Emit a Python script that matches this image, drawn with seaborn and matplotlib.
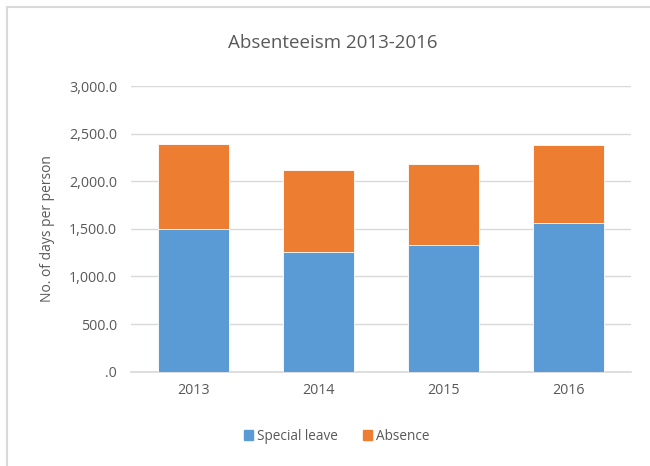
import matplotlib
matplotlib.use("Agg")
import numpy as np
import pandas as pd
import seaborn as sns
import matplotlib.pyplot as plt
from matplotlib.lines import Line2D
from matplotlib.patches import Patch
from matplotlib.ticker import FuncFormatter

years = ["2013", "2014", "2015", "2016"]
special_leave = [1495, 1260, 1330, 1562]
absence = [891, 856, 856, 814]

BLUE = "#5B9BD5"
ORANGE = "#ED7D31"
TEXT = "#595959"
GRID = "#D9D9D9"

sns.set_theme(style="white")
plt.rcParams["font.family"] = ["Open Sans", "DejaVu Sans"]

totals = np.array(special_leave) + np.array(absence)
df = pd.DataFrame({"year": years, "special": special_leave, "total": totals})

fig = plt.figure(figsize=(6.5, 4.66), dpi=100)
ax = fig.add_axes([131 / 650, 1 - 371.7 / 466, 500 / 650, (371.7 - 86) / 466])

# stacked: draw the totals first (orange) and the lower series on top
sns.barplot(data=df, x="year", y="total", color=ORANGE, width=0.57,
            saturation=1, ax=ax, zorder=2)
sns.barplot(data=df, x="year", y="special", color=BLUE, width=0.57,
            saturation=1, ax=ax, zorder=3)
for p in ax.patches:
    p.set_edgecolor("white")
    p.set_linewidth(0.6)

ax.set_ylim(0, 3000)
ax.set_xlim(-0.5, 3.5)
ax.set_yticks(np.arange(0, 3001, 500))
ax.yaxis.set_major_formatter(FuncFormatter(
    lambda v, _: ".0" if v == 0 else f"{v:,.1f}"))
ax.grid(axis="y", color=GRID, linewidth=1, zorder=0)
ax.set_axisbelow(True)
for s in ["top", "right", "left"]:
    ax.spines[s].set_visible(False)
ax.spines["bottom"].set_color(GRID)
ax.tick_params(axis="both", length=0, labelsize=10.3, colors=TEXT, pad=8)
ax.tick_params(axis="y", pad=10)
ax.set_xlabel("")
ax.set_ylabel("No. of days per person", fontsize=10, color=TEXT, labelpad=10)

fig.text(0.512, 1 - 43 / 466, "Absenteeism 2013-2016", ha="center",
         va="center", fontsize=13.5, color=TEXT)

handles = [Patch(color=BLUE, label="Special leave"),
           Patch(color=ORANGE, label="Absence")]
fig.legend(handles=handles, loc="center", bbox_to_anchor=(0.518, 1 - 436 / 466),
           ncol=2, frameon=False, fontsize=9.8, labelcolor=TEXT,
           handlelength=0.7, handleheight=0.7, handletextpad=0.3,
           columnspacing=1.8)

# chart border (top and left edges visible in the crop)
fig.add_artist(Line2D([7 / 650, 1], [1 - 7 / 466] * 2, color=GRID, lw=1.5,
                      transform=fig.transFigure))
fig.add_artist(Line2D([7 / 650] * 2, [0, 1 - 7 / 466], color=GRID, lw=1.5,
                      transform=fig.transFigure))

fig.savefig("out.png", dpi=100)
